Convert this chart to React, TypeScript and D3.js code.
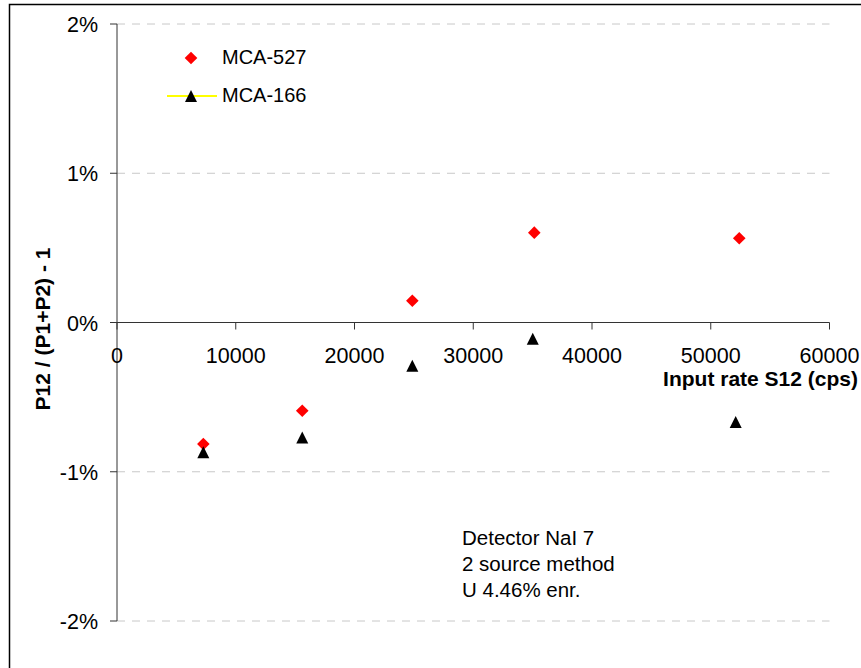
import React from "react";
import * as d3 from "d3";

const xTicks = [0, 10000, 20000, 30000, 40000, 50000, 60000];
const yTicks = [-0.02, -0.01, 0, 0.01, 0.02];
const gridTicks = [-0.02, -0.01, 0.01, 0.02];

const mca527X = [7270, 15600, 24870, 35140, 52400];
const mca527Y = [-0.00814, -0.00591, 0.00146, 0.00602, 0.00564];

const mca166X = [7270, 15600, 24870, 35010, 52100];
const mca166Y = [-0.00869, -0.00771, -0.00289, -0.00109, -0.00666];

const infoLines = ["Detector NaI 7", "2 source method", "U 4.46% enr."];
const seriesNames = ["MCA-527", "MCA-166"];

const FONT = "'Liberation Sans', Arial, sans-serif";

export default function App() {
  const W = 861;
  const H = 668;
  const x = d3.scaleLinear().domain([0, 60000]).range([117, 829.5]);
  const y = d3.scaleLinear().domain([-0.02, 0.02]).range([621, 24]);
  const fmtPct = (v: number) => `${Math.round(v * 100)}%`;

  const diamond = (cx: number, cy: number, r: number) => {
    const p = d3.path();
    p.moveTo(cx, cy - r);
    p.lineTo(cx + r, cy);
    p.lineTo(cx, cy + r);
    p.lineTo(cx - r, cy);
    p.closePath();
    return p.toString();
  };
  const triangle = (cx: number, cy: number, r: number) => {
    const p = d3.path();
    p.moveTo(cx, cy - r);
    p.lineTo(cx + r, cy + r);
    p.lineTo(cx - r, cy + r);
    p.closePath();
    return p.toString();
  };

  const x0 = x(0);
  const x1 = x(60000);
  const yZero = y(0);

  return (
    <svg
      width={W}
      height={H}
      style={{ position: "absolute", left: 0, top: 0, background: "#fff" }}
      fontFamily={FONT}
    >
      <rect x={0} y={0} width={W} height={H} fill="#fff" />
      <rect x={9.5} y={4.5} width={W + 20} height={H + 20} fill="none" stroke="#000" strokeWidth={1.5} />

      {/* gridlines */}
      {gridTicks.map((t) => (
        <line
          key={"g" + t}
          x1={x0}
          x2={x1}
          y1={y(t)}
          y2={y(t)}
          stroke="#c8c8c8"
          strokeWidth={1}
          strokeDasharray="8 7"
        />
      ))}

      {/* y axis */}
      <line x1={x0} x2={x0} y1={y(0.02)} y2={y(-0.02)} stroke="#333" strokeWidth={1} />
      {yTicks.map((t) => (
        <g key={"yt" + t}>
          <line x1={x0 - 7} x2={x0} y1={y(t)} y2={y(t)} stroke="#333" strokeWidth={1} />
          <text x={98} y={y(t) + 8} textAnchor="end" fontSize={21.5} fill="#000">
            {fmtPct(t)}
          </text>
        </g>
      ))}

      {/* x axis */}
      <line x1={x0} x2={x1} y1={yZero} y2={yZero} stroke="#333" strokeWidth={1} />
      {xTicks.map((t) => (
        <g key={"xt" + t}>
          <line x1={x(t)} x2={x(t)} y1={yZero} y2={yZero + 7} stroke="#333" strokeWidth={1} />
          <text x={x(t)} y={363} textAnchor="middle" fontSize={21.5} fill="#000">
            {t}
          </text>
        </g>
      ))}

      {/* axis titles */}
      <text x={858} y={386} textAnchor="end" fontSize={21} fontWeight="bold" fill="#000">
        Input rate S12 (cps)
      </text>
      <text
        transform={`translate(50,329) rotate(-90)`}
        textAnchor="middle"
        fontSize={21}
        fontWeight="bold"
        fill="#000"
      >
        P12 / (P1+P2) - 1
      </text>

      {/* series */}
      {mca527X.map((v, i) => (
        <path key={"d" + i} d={diamond(x(v), y(mca527Y[i]), 6.3)} fill="#ff0000" />
      ))}
      {mca166X.map((v, i) => (
        <path key={"t" + i} d={triangle(x(v), y(mca166Y[i]), 6)} fill="#000" />
      ))}

      {/* legend */}
      <path d={diamond(191, 58, 6.3)} fill="#ff0000" />
      <text x={222} y={63.5} fontSize={20} fill="#000">
        {seriesNames[0]}
      </text>
      <line x1={167} x2={217} y1={96} y2={96} stroke="#ffff00" strokeWidth={2} />
      <path d={triangle(191, 96, 6)} fill="#000" />
      <text x={222} y={101.7} fontSize={20} fill="#000">
        {seriesNames[1]}
      </text>

      {/* info text */}
      {infoLines.map((s, i) => (
        <text key={"i" + i} x={462} y={545 + i * 26} fontSize={20.5} fill="#000">
          {s}
        </text>
      ))}
    </svg>
  );
}
